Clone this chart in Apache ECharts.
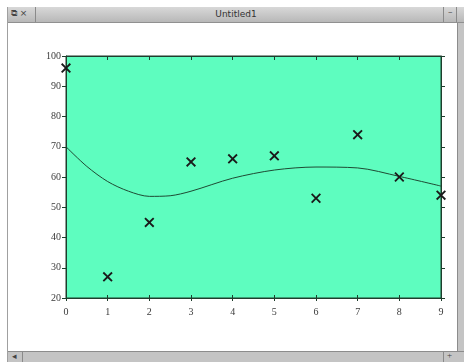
<!DOCTYPE html>
<html>
<head>
<meta charset="utf-8">
<script src="https://cdn.jsdelivr.net/npm/echarts@6/dist/echarts.min.js"></script>
<style>
  html, body { margin:0; padding:0; width:464px; height:362px; background:#fff; overflow:hidden; }
  #frame { position:absolute; left:0; top:0; width:464px; height:362px; }
  .title { position:absolute; left:8px; top:7px; width:456px; height:15px;
           background:linear-gradient(#d8d8d8,#b8b8b8); border-bottom:1px solid #909090;
           font-family:"DejaVu Sans",sans-serif; font-size:9px; color:#333; }
  .sep { position:absolute; top:0; width:1px; height:15px; background:#8a8a8a; }
  .lborder { position:absolute; left:7px; top:7px; width:1px; height:355px; background:#a0a0a0; }
  .vscroll { position:absolute; left:457px; top:23px; width:7px; height:328px; background:#c4c4c4; border-left:1px solid #8c8c8c; }
  .hscroll { position:absolute; left:8px; top:351px; width:456px; height:11px; background:#c4c4c4; border-top:1px solid #8c8c8c; }
  #chart { position:absolute; left:0; top:0; width:464px; height:362px; }
</style>
</head>
<body>
<div id="frame">
  <div class="lborder"></div>
  <div class="title">
    <span style="position:absolute;left:3px;top:1px;font-size:9px;color:#444;">⧉ ×</span>
    <div class="sep" style="left:27px"></div>
    <span style="position:absolute;left:0;width:456px;text-align:center;top:2px;">Untitled1</span>
    <div class="sep" style="left:435px"></div>
    <span style="position:absolute;left:440px;top:0px;color:#555;">–</span>
    <div class="sep" style="left:448px"></div>
  </div>
  <div class="vscroll"></div>
  <div class="hscroll">
    <span style="position:absolute;left:4px;top:-1px;font-size:9px;color:#444;">◂</span>
    <div class="sep" style="left:14px;height:11px"></div>
    <div class="sep" style="left:435px;height:11px"></div>
    <span style="position:absolute;left:439px;top:-2px;font-size:9px;color:#444;">+</span>
  </div>
</div>
<div id="chart"></div>
<script>
// Data
const xTicks = [0,1,2,3,4,5,6,7,8,9];
const yTicks = [20,30,40,50,60,70,80,90,100];
const pointX = [0,1,2,3,4,5,6,7,8,9];
const pointY = [96,27,45,65,66,67,53,74,60,54];
const curveX = [0,0.5,1,1.5,2,2.5,3,4,5,6,7,8,9];
const curveY = [70,63.5,58.5,55.3,53.6,53.8,55.3,59.6,62.3,63.3,63,60.2,57];

const crossPath = 'path://M0,1.3L1.3,0L5,3.7L8.7,0L10,1.3L6.3,5L10,8.7L8.7,10L5,6.3L1.3,10L0,8.7L3.7,5Z';
const labelFont = { fontFamily:'"Liberation Serif", serif', fontSize:10, color:'#3a3a3a' };
const lineStyle = { color:'#1e3d2c', width:1 };

const chart = echarts.init(document.getElementById('chart'), null, { renderer:'canvas' });
chart.setOption({
  animation:false,
  backgroundColor:'transparent',
  grid:{ left:66, top:56, width:375, height:242, show:true, backgroundColor:'#5efdbf', borderColor:'#1e3d2c', borderWidth:1 },
  xAxis:[
    { type:'value', position:'bottom', min:xTicks[0], max:xTicks[xTicks.length-1], interval:1,
      axisLine:{ show:true, onZero:false, lineStyle }, axisTick:{ show:true, inside:false, length:3, lineStyle },
      axisLabel:{ ...labelFont, margin:9, formatter:v => String(v) }, splitLine:{ show:false } },
    { type:'value', position:'top', min:0, max:9, interval:1,
      axisLine:{ show:true, lineStyle }, axisTick:{ show:true, inside:true, length:4, lineStyle },
      axisLabel:{ show:false }, splitLine:{ show:false } },
    { type:'value', position:'bottom', min:0, max:9, interval:1,
      axisLine:{ show:false, onZero:false }, axisTick:{ show:true, inside:true, length:3, lineStyle },
      axisLabel:{ show:false }, splitLine:{ show:false } }
  ],
  yAxis:[
    { type:'value', position:'left', min:yTicks[0], max:yTicks[yTicks.length-1], interval:10,
      axisLine:{ show:true, onZero:false, lineStyle }, axisTick:{ show:true, inside:false, length:4, lineStyle },
      axisLabel:{ ...labelFont, margin:5 }, splitLine:{ show:false } },
    { type:'value', position:'right', min:20, max:100, interval:10,
      axisLine:{ show:true, onZero:false, lineStyle }, axisTick:{ show:true, inside:false, length:4, lineStyle },
      axisLabel:{ show:false }, splitLine:{ show:false } }
  ],
  series:[
    { type:'line', xAxisIndex:0, yAxisIndex:0, data:curveX.map((x,i)=>[x,curveY[i]]),
      smooth:0.3, showSymbol:false, symbol:'none', lineStyle:{ color:'#1e4a33', width:1 }, z:2 },
    { type:'scatter', xAxisIndex:0, yAxisIndex:0, data:pointX.map((x,i)=>[x,pointY[i]]),
      symbol:crossPath, symbolSize:10, itemStyle:{ color:'#1a1a1a', opacity:1 }, z:3 }
  ]
});
</script>
</body>
</html>
